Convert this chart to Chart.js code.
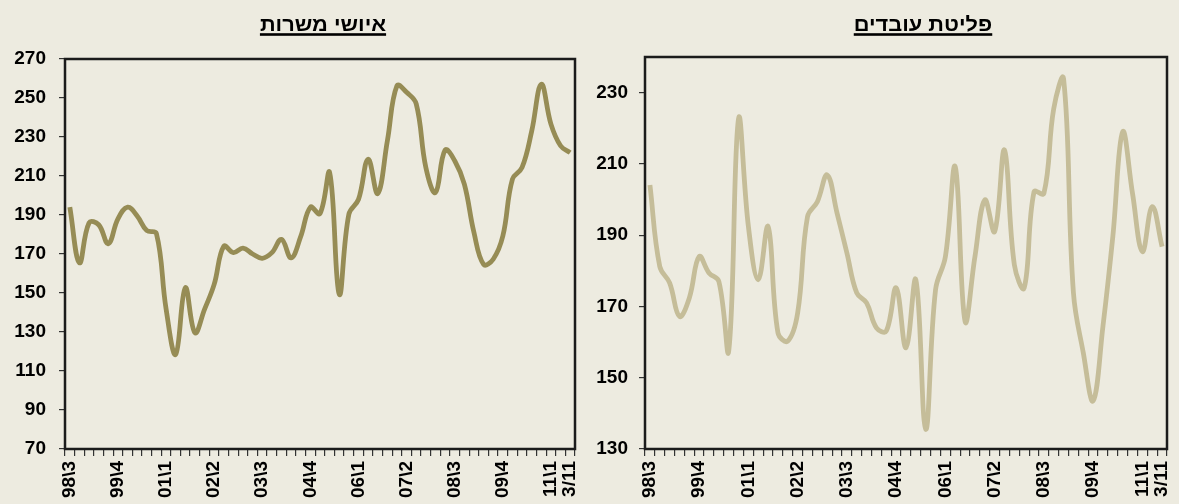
<!DOCTYPE html>
<html><head><meta charset="utf-8">
<script src="https://cdn.jsdelivr.net/npm/chart.js@4.4.0/dist/chart.umd.min.js"></script>
<style>
html,body{margin:0;padding:0;background:#EDEBE0;width:1179px;height:504px;overflow:hidden;}
.box{position:absolute;top:0;height:504px;}
</style></head><body>
<div class="box" style="left:0;width:583px"><canvas id="c1" width="583" height="504"></canvas></div>
<div class="box" style="left:583px;width:596px"><canvas id="c2" width="596" height="504"></canvas></div>
<script>
const categories = ['98\\3','98\\4','99\\1','99\\2','99\\3','99\\4','00\\1','00\\2','00\\3','00\\4',
  '01\\1','01\\2','01\\3','01\\4','02\\1','02\\2','02\\3','02\\4','03\\1','03\\2',
  '03\\3','03\\4','04\\1','04\\2','04\\3','04\\4','05\\1','05\\2','05\\3','05\\4',
  '06\\1','06\\2','06\\3','06\\4','07\\1','07\\2','07\\3','07\\4','08\\1','08\\2',
  '08\\3','08\\4','09\\1','09\\2','09\\3','09\\4','10\\1','10\\2','10\\3','10\\4',
  '11\\1','11\\2','3/11'];
const shownLabels = ['98\\3','99\\4','01\\1','02\\2','03\\3','04\\4','06\\1','07\\2','08\\3','09\\4','11\\1','3/11'];

const titleLeft = 'איושי משרות';
const titleRight = 'פליטת עובדים';

const vacanciesFilled = [194,165.5,186,185,175.3,188,194,189.5,182,180.5,
  142,118.5,152.7,129.6,141.6,154.4,174,170.7,173,170,
  167.8,170.7,177.5,168,179,194,190.7,211.8,149.3,190.4,
  198,218.6,201,228,256.3,252.9,247,214.4,201.5,223.3,
  217.8,205.8,181,164.7,167.3,179.2,208.4,214.4,233,257,
  236.6,225.5,222];
const workersLeaving = [204.1,181.2,176.6,167.2,172.4,184,179.4,177,157.5,222.7,
  192.4,177.5,192.4,162.6,160.3,168.2,195.2,199.4,206.9,196.2,
  185,173.8,171,164,163.1,175.2,158.4,177.5,135.5,174.7,
  184,209.2,165.8,184,199.9,191,213.9,181.7,175.2,202.2,
  201.7,225.5,233.9,173.8,157,143.5,164.5,189.6,219,201.7,
  185.4,198,186.8];

const leftTicks = [70,90,110,130,150,170,190,210,230,250,270];
const rightTicks = [130,150,170,190,210,230];

Chart.defaults.font.family = "'Liberation Sans', Arial, sans-serif";
Chart.defaults.color = '#000';

function makeChart(id, opts) {
  const framePlugin = {
    id: 'frame' + id,
    afterDraw(chart) {
      const ctx = chart.ctx, a = chart.chartArea;
      ctx.save();
      ctx.strokeStyle = '#1b1b1b';
      ctx.lineWidth = 2.5;
      ctx.strokeRect(a.left, a.top, a.right - a.left, a.bottom - a.top);
      ctx.restore();
      ctx.save();
      ctx.translate(opts.titleX, 0);
      ctx.scale(1.09, 1);
      ctx.font = "bold 20px 'Liberation Sans', Arial, sans-serif";
      ctx.fillStyle = '#000';
      ctx.textAlign = 'center';
      ctx.textBaseline = 'alphabetic';
      ctx.direction = 'rtl';
      ctx.fillText(opts.title, 0, 31);
      const w = ctx.measureText(opts.title).width;
      ctx.fillRect(-w / 2, 33.2, w, 2.6);
      ctx.restore();
    }
  };
  return new Chart(document.getElementById(id), {
    type: 'line',
    data: {
      labels: categories,
      datasets: [{
        data: opts.data,
        borderColor: opts.color,
        borderWidth: 4.8,
        pointRadius: 0,
        tension: 0.4,
        fill: false,
        borderJoinStyle: 'round'
      }]
    },
    options: {
      responsive: false,
      animation: false,
      events: [],
      layout: { padding: { left: 0, right: opts.padRight, top: opts.top, bottom: 0 } },
      plugins: { legend: { display: false }, tooltip: { enabled: false }, title: { display: false } },
      scales: {
        x: {
          type: 'category',
          offset: true,
          border: { display: false },
          grid: { drawOnChartArea: false, tickLength: 7, color: '#333', lineWidth: 1.2, offset: true },
          ticks: {
            autoSkip: false, maxRotation: 90, minRotation: 90, padding: 5,
            font: { size: 19, weight: 'bold' },
            callback: function (v, i) { const l = categories[i]; return shownLabels.includes(l) ? l : ''; }
          },
          afterFit(scale) { scale.height = 55; scale.paddingLeft = 0; scale.paddingRight = 0; }
        },
        y: {
          min: opts.min, max: opts.max,
          border: { display: false },
          grid: { drawOnChartArea: false, tickLength: 6, color: '#333', lineWidth: 1.2 },
          ticks: { stepSize: 20, padding: opts.labelPad, font: { size: 19, weight: 'bold' } },
          afterBuildTicks(scale) { scale.ticks = opts.ticks.map(v => ({ value: v })); },
          afterFit(scale) { scale.width = opts.yWidth; }
        }
      }
    },
    plugins: [framePlugin]
  });
}

makeChart('c1', { data: vacanciesFilled, color: '#968C55', min: 70, max: 270, ticks: leftTicks,
  padRight: 8, top: 59, yWidth: 65, labelPad: 13, title: titleLeft, titleX: 323 });
makeChart('c2', { data: workersLeaving, color: '#C5BD99', min: 130, max: 240, ticks: rightTicks,
  padRight: 12, top: 57, yWidth: 62, labelPad: 11, title: titleRight, titleX: 340 });
</script>
</body></html>
